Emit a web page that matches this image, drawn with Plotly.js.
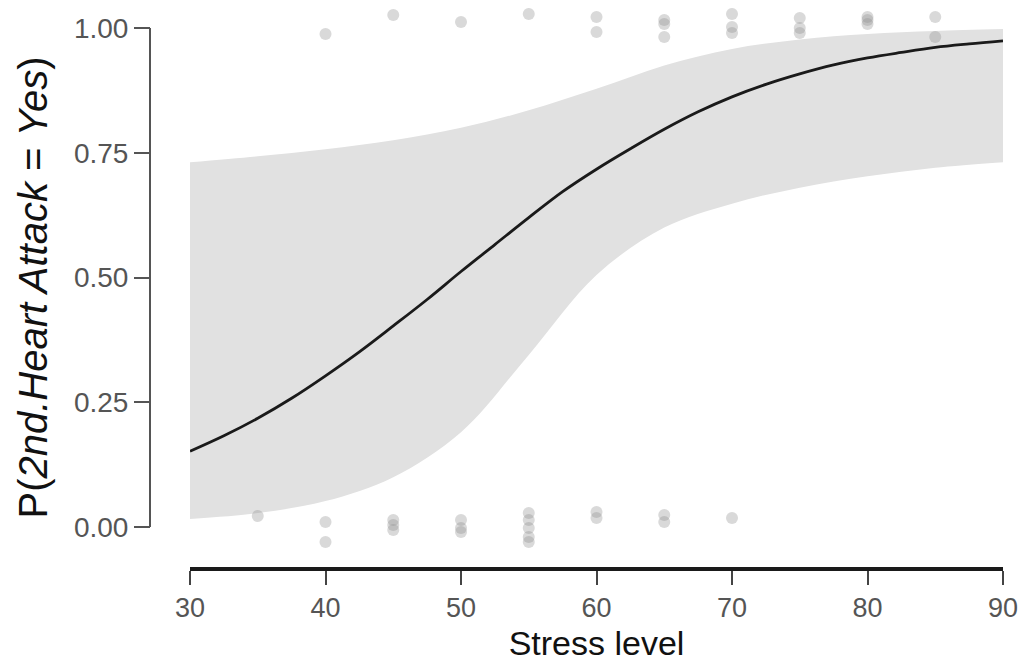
<!DOCTYPE html>
<html>
<head>
<meta charset="utf-8">
<script src="https://cdn.plot.ly/plotly-3.0.1.min.js"></script>
<style>html,body{margin:0;padding:0;background:#fff;}#chart{width:1025px;height:662px;}</style>
</head>
<body>
<div id="chart"></div>
<script>
// Fitted probability curve
const curveX = [30,32.5,35,37.5,40,42.5,45,47.5,50,52.5,55,57.5,60,62.5,65,67.5,70,72.5,75,77.5,80,82.5,85,87.5,90];
const curveY = [0.152,0.183,0.218,0.258,0.303,0.351,0.403,0.456,0.512,0.566,0.620,0.672,0.717,0.758,0.797,0.832,0.862,0.887,0.908,0.926,0.940,0.951,0.961,0.968,0.974];

// Confidence band
const bandX = [30,35,40,45,50,55,60,65,70,75,80,85,90];
const bandUpper = [0.731,0.743,0.757,0.775,0.800,0.835,0.878,0.925,0.958,0.977,0.988,0.994,0.998];
const bandLower = [0.016,0.028,0.052,0.100,0.190,0.345,0.505,0.600,0.648,0.680,0.703,0.720,0.731];

// Jittered observations (outcome Yes ~1, No ~0)
const obsX = [40,45,50,55,60,60,65,65,65,70,70,70,75,75,75,80,80,80,85,85,
              35,40,40,45,45,45,50,50,50,55,55,55,55,55,60,60,65,65,70];
const obsY = [0.988,1.026,1.012,1.028,1.022,0.992,1.016,1.008,0.982,1.028,1.002,0.990,1.020,1.000,0.990,1.022,1.016,1.008,1.022,0.982,
              0.022,0.010,-0.030,0.014,0.004,-0.006,0.014,-0.002,-0.010,0.028,0.014,-0.002,-0.020,-0.030,0.030,0.018,0.024,0.010,0.018];

const xTicks = [30,40,50,60,70,80,90];
const yTicks = [0,0.25,0.5,0.75,1];
const yTickText = ['0.00','0.25','0.50','0.75','1.00'];
const yAxisSpan = [0,1];

const traces = [
  {x: bandX, y: bandLower, type:'scatter', mode:'lines', line:{width:0, shape:'spline', color:'rgba(0,0,0,0)'}, hoverinfo:'skip', showlegend:false},
  {x: bandX, y: bandUpper, type:'scatter', mode:'lines', fill:'tonexty', fillcolor:'#e1e1e1', line:{width:0, shape:'spline', color:'rgba(0,0,0,0)'}, hoverinfo:'skip', showlegend:false},
  {x: obsX, y: obsY, type:'scatter', mode:'markers', marker:{size:12, color:'rgba(140,140,140,0.33)', line:{width:0}}, showlegend:false},
  {x: curveX, y: curveY, type:'scatter', mode:'lines', line:{color:'#1a1a1a', width:2.8, shape:'spline'}, showlegend:false}
];

const layout = {
  width:1025, height:662,
  margin:{l:150, r:22, t:8, b:95},
  paper_bgcolor:'#ffffff', plot_bgcolor:'#ffffff',
  font:{family:'"Liberation Sans", Arial, sans-serif', color:'#555'},
  xaxis:{
    domain:[0.0469,1], range:[30,90], anchor:'y',
    tickvals:xTicks, ticktext:xTicks.map(String),
    showgrid:false, zeroline:false,
    showline:true, linecolor:'#1a1a1a', linewidth:3.5,
    ticks:'outside', ticklen:14, tickwidth:2, tickcolor:'#444',
    tickfont:{size:27, color:'#555'},
    title:{text:'Stress level', font:{size:34, color:'#111'}, standoff:12}
  },
  yaxis:{
    domain:[0,1], range:[-0.08,1.04], anchor:'free', position:0,
    tickvals:yTicks, ticktext:yTickText,
    showgrid:false, zeroline:false,
    showline:false,
    ticks:'outside', ticklen:16, tickwidth:2, tickcolor:'#555',
    tickfont:{size:28, color:'#555'},
    title:{text:'P(<i>2nd.Heart Attack</i> = <i>Yes</i>)', font:{size:40, color:'#111'}, standoff:12}
  },
  shapes:[
    {type:'line', xref:'paper', yref:'y', x0:0, x1:0, y0:yAxisSpan[0], y1:yAxisSpan[1], line:{color:'#555', width:2}}
  ]
};

Plotly.newPlot('chart', traces, layout, {displayModeBar:false, staticPlot:true});
</script>
</body>
</html>
